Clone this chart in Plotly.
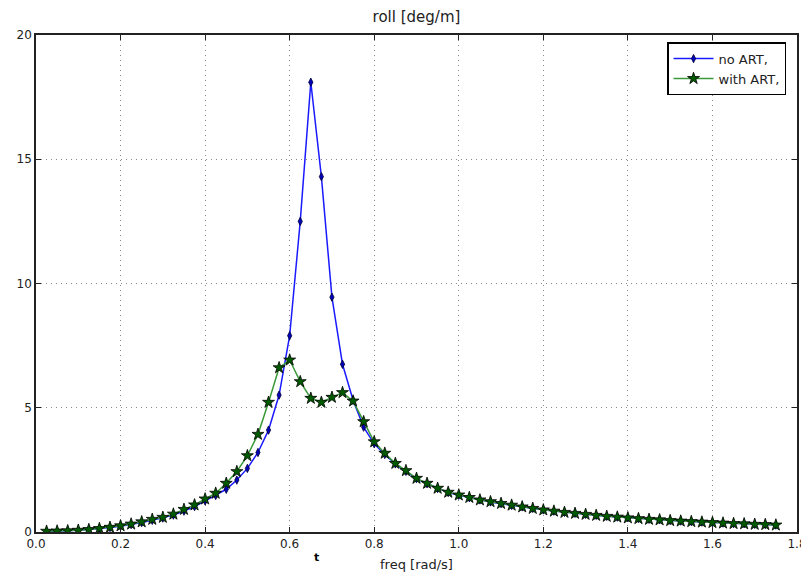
import plotly.graph_objects as go

freq = [0.025, 0.05, 0.075, 0.1, 0.125, 0.15, 0.175, 0.2, 0.225, 0.25,
        0.275, 0.3, 0.325, 0.35, 0.375, 0.4, 0.425, 0.45, 0.475, 0.5,
        0.525, 0.55, 0.575, 0.6, 0.625, 0.65, 0.675, 0.7, 0.725, 0.75,
        0.775, 0.8, 0.825, 0.85, 0.875, 0.9, 0.925, 0.95, 0.975, 1.0,
        1.025, 1.05, 1.075, 1.1, 1.125, 1.15, 1.175, 1.2, 1.225, 1.25,
        1.275, 1.3, 1.325, 1.35, 1.375, 1.4, 1.425, 1.45, 1.475, 1.5,
        1.525, 1.55, 1.575, 1.6, 1.625, 1.65, 1.675, 1.7, 1.725, 1.75]

no_art = [0.02, 0.03, 0.05, 0.07, 0.10, 0.13, 0.18, 0.23, 0.30, 0.38,
          0.47, 0.56, 0.68, 0.84, 1.02, 1.25, 1.47, 1.72, 2.09, 2.56,
          3.20, 4.10, 5.51, 7.90, 12.5, 18.1, 14.3, 9.45, 6.75, 5.30,
          4.22, 3.55, 3.12, 2.74, 2.44, 2.15, 1.94, 1.75, 1.59, 1.48,
          1.38, 1.29, 1.21, 1.14, 1.07, 1.01, 0.95, 0.89, 0.84, 0.79,
          0.75, 0.71, 0.67, 0.63, 0.60, 0.57, 0.54, 0.51, 0.49, 0.46,
          0.44, 0.42, 0.40, 0.38, 0.36, 0.34, 0.33, 0.31, 0.30, 0.28]

with_art = [0.03, 0.04, 0.05, 0.07, 0.10, 0.14, 0.19, 0.25, 0.32, 0.41,
            0.51, 0.59, 0.72, 0.91, 1.09, 1.33, 1.56, 1.96, 2.43, 3.07,
            3.93, 5.22, 6.61, 6.92, 6.05, 5.38, 5.22, 5.42, 5.61, 5.27,
            4.44, 3.63, 3.17, 2.76, 2.47, 2.16, 1.96, 1.76, 1.60, 1.49,
            1.39, 1.29, 1.22, 1.15, 1.08, 1.01, 0.95, 0.89, 0.84, 0.79,
            0.75, 0.71, 0.67, 0.63, 0.60, 0.57, 0.54, 0.51, 0.49, 0.46,
            0.44, 0.42, 0.40, 0.38, 0.36, 0.34, 0.33, 0.31, 0.30, 0.28]

x_ticks = [0.0, 0.2, 0.4, 0.6, 0.8, 1.0, 1.2, 1.4, 1.6, 1.8]
y_ticks = [0, 5, 10, 15, 20]

FONT = "DejaVu Sans"
W, H = 801, 569  # page body has an 8px default margin

fig = go.Figure()
fig.add_trace(go.Scatter(
    x=freq, y=no_art, name="no ART,", mode="lines+markers",
    line=dict(color="#1a1aff", width=1.5),
    marker=dict(symbol="diamond-tall", size=6, color="#0000bb",
                line=dict(color="#000033", width=0.8)),
))
fig.add_trace(go.Scatter(
    x=freq, y=with_art, name="with ART,", mode="lines+markers",
    line=dict(color="#3a9a3a", width=1.5),
    marker=dict(symbol="star", size=9, color="#005a00",
                line=dict(color="#000000", width=0.8)),
))

axis_common = dict(
    showline=True, linecolor="#222222", linewidth=1.5, mirror="ticks",
    ticks="inside", ticklen=5, tickcolor="#222222", automargin=False,
    showgrid=True, gridcolor="#8a8a8a", gridwidth=1, griddash="1px,4px",
    zeroline=False, tickfont=dict(family=FONT, size=12, color="#222222"),
)

fig.update_xaxes(range=[0, 1.8], tickvals=x_ticks,
                 ticktext=[f"{v:.1f}" for v in x_ticks],
                 title=dict(text="freq [rad/s]", standoff=10,
                            font=dict(family=FONT, size=13, color="#222222")),
                 **axis_common)
fig.update_yaxes(range=[0, 20], tickvals=y_ticks,
                 ticktext=[str(v) for v in y_ticks], **axis_common)

fig.add_annotation(text="<b>t</b>", xref="paper", yref="paper",
                   x=(316 - 36) / 761, y=-(566 - 532) / 497,
                   showarrow=False, font=dict(family=FONT, size=11, color="#000000"))

fig.update_layout(
    width=W, height=H,
    margin=dict(l=28, r=12, t=27, b=45),
    paper_bgcolor="white", plot_bgcolor="white",
    title=dict(text="roll [deg/m]", x=0.5, xref="paper", y=1 - 9 / H,
               yanchor="middle", xanchor="center",
               font=dict(family=FONT, size=15, color="#222222")),
    legend=dict(x=0.986, y=0.985, xanchor="right", yanchor="top",
                bordercolor="#000000", borderwidth=1.2, bgcolor="white",
                font=dict(family=FONT, size=13, color="#222222"),
                itemwidth=40, tracegroupgap=4),
    showlegend=True,
)

fig.write_html("out.html")
